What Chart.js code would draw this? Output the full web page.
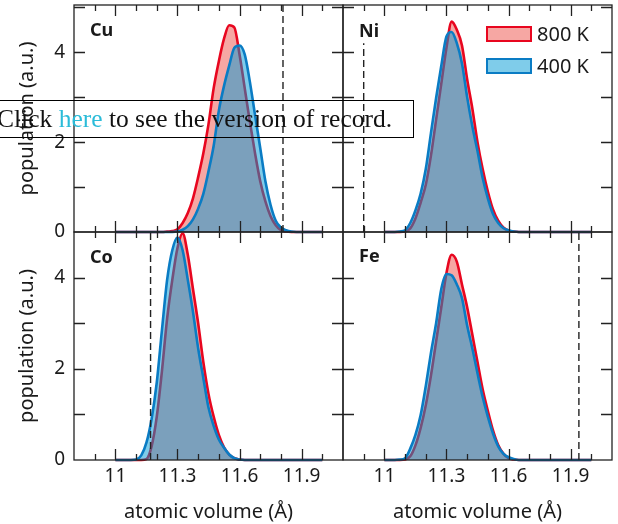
<!DOCTYPE html>
<html>
<head>
<meta charset="utf-8">
<script src="https://cdn.jsdelivr.net/npm/chart.js@4.4.1/dist/chart.umd.min.js"></script>
<style>
  html, body { margin: 0; padding: 0; background: #fff; }
  #fig { position: relative; width: 618px; height: 524px; overflow: hidden;
         font-family: "Noto Sans", sans-serif; color: #1a1a1a; }
  #fig canvas { position: absolute; }
  .tag { position: absolute; font-weight: 700; font-size: 18px; line-height: 18px; }
  .key { position: absolute; left: 486px; width: 42px; height: 12px; border: 2px solid; }
  .keytxt { position: absolute; left: 537px; font-size: 20px; line-height: 20px; }
  #record { position: absolute; left: -6px; top: 100px; width: 416px; height: 36px;
            border: 1.3px solid #000; font-family: "Liberation Serif", serif;
            font-size: 25.5px; line-height: 36px; white-space: nowrap; color: #111;
            padding-left: 2px; box-sizing: content-box; }
  #record span { color: #2bbcd9; }
</style>
</head>
<body>
<div id="fig">
  <canvas id="cu"></canvas>
  <canvas id="ni"></canvas>
  <canvas id="co"></canvas>
  <canvas id="fe"></canvas>

  <div class="tag" style="left:90px; top:20px;">Cu</div>
  <div class="tag" style="left:359px; top:21px;">Ni</div>
  <div class="tag" style="left:90px; top:247px;">Co</div>
  <div class="tag" style="left:359px; top:246px;">Fe</div>

  <div class="key" style="top:26px; border-color:#e8061f; background:rgba(235,60,50,0.45);"></div>
  <div class="keytxt" style="top:24px;">800 K</div>
  <div class="key" style="top:58px; border-color:#0a7cc4; background:rgba(0,153,214,0.5);"></div>
  <div class="keytxt" style="top:56px;">400 K</div>

  <div id="record">Click <span>here</span> to see the version of record.</div>
</div>

<script>
// atomic volume grid (Å)
const VOLUME = [11.000, 11.025, 11.050, 11.075, 11.100, 11.125, 11.150, 11.175, 11.200, 11.225,
                11.250, 11.275, 11.300, 11.325, 11.350, 11.375, 11.400, 11.425, 11.450, 11.475,
                11.500, 11.525, 11.550, 11.575, 11.600, 11.625, 11.650, 11.675, 11.700, 11.725,
                11.750, 11.775, 11.800, 11.825, 11.850, 11.875, 11.900, 11.925, 11.950, 11.975, 12.000];

// populations, 800 K and 400 K
const CU_800 = [0, 0, 0, 0, 0, 0, 0, 0, 0, 0,
                0.01, 0.02, 0.06, 0.2, 0.42, 0.75, 1.22, 1.75, 2.4, 3.2,
                3.8, 4.3, 4.6, 4.55, 3.95, 3.2, 2.45, 1.75, 1.13, 0.68,
                0.35, 0.15, 0.04, 0.01, 0, 0, 0, 0, 0, 0, 0];
const CU_400 = [0, 0, 0, 0, 0, 0, 0, 0, 0, 0,
                0, 0, 0.01, 0.05, 0.13, 0.28, 0.52, 0.85, 1.35, 1.92,
                2.7, 3.25, 3.7, 4.1, 4.15, 3.95, 3.34, 2.6, 1.87, 1.13,
                0.6, 0.25, 0.1, 0.04, 0.01, 0, 0, 0, 0, 0, 0];
const NI_800 = [0, 0, 0, 0, 0.01, 0.08, 0.3, 0.65, 1.05, 1.7,
                2.5, 3.3, 4.1, 4.68, 4.5, 4.15, 3.4, 2.75, 2.0, 1.4,
                0.9, 0.5, 0.25, 0.1, 0.03, 0.01, 0, 0, 0, 0,
                0, 0, 0, 0, 0, 0, 0, 0, 0, 0, 0];
const NI_400 = [0, 0, 0, 0.01, 0.04, 0.2, 0.48, 0.85, 1.4, 2.2,
                2.98, 3.7, 4.35, 4.45, 4.2, 3.75, 3.0, 2.35, 1.8, 1.2,
                0.75, 0.4, 0.2, 0.09, 0.04, 0.01, 0, 0, 0, 0,
                0, 0, 0, 0, 0, 0, 0, 0, 0, 0, 0];
const CO_800 = [0, 0, 0, 0, 0, 0, 0.02, 0.3, 0.95, 1.95,
                3.1, 3.95, 4.65, 4.97, 4.5, 3.75, 3.0, 2.15, 1.45, 0.95,
                0.55, 0.28, 0.12, 0.04, 0.01, 0, 0, 0, 0, 0,
                0, 0, 0, 0, 0, 0, 0, 0, 0, 0, 0];
const CO_400 = [0, 0, 0, 0, 0.01, 0.1, 0.38, 0.9, 1.7, 2.85,
                3.95, 4.6, 4.88, 4.6, 3.95, 3.25, 2.45, 1.8, 1.15, 0.75,
                0.45, 0.27, 0.12, 0.04, 0.01, 0, 0, 0, 0, 0,
                0, 0, 0, 0, 0, 0, 0, 0, 0, 0, 0];
const FE_800 = [0, 0, 0, 0, 0.01, 0.08, 0.32, 0.7, 1.2, 1.85,
                2.6, 3.35, 4.1, 4.5, 4.35, 3.85, 3.35, 2.75, 2.15, 1.55,
                1.08, 0.65, 0.33, 0.14, 0.04, 0.01, 0, 0, 0, 0,
                0, 0, 0, 0, 0, 0, 0, 0, 0, 0, 0];
const FE_400 = [0, 0, 0, 0.01, 0.04, 0.25, 0.55, 0.98, 1.62, 2.35,
                3.0, 3.75, 4.08, 4.05, 3.85, 3.55, 2.95, 2.45, 1.9, 1.38,
                0.95, 0.58, 0.3, 0.14, 0.06, 0.02, 0, 0, 0, 0,
                0, 0, 0, 0, 0, 0, 0, 0, 0, 0, 0];

// dashed reference volumes (Cu, Ni, Co, Fe) and how high each line goes
const REF_VOLUME = [11.81, 10.9, 11.17, 11.94];
const REF_TOP    = [5.05, 4.2, 5.0, 5.0];

const X_TICKS = [11, 11.3, 11.6, 11.9];
const Y_TICKS = [0, 2, 4];
const SERIES  = ['800 K', '400 K'];

const TICK_FONT  = { family: '"Noto Sans", sans-serif', size: 19 };
const TITLE_FONT = { family: '"Noto Sans", sans-serif', size: 20 };
const INK = '#1a1a1a';

// frame + inward ticks on all four sides
const frame = {
  id: 'frame',
  afterDraw(chart) {
    const { ctx, chartArea: a, scales: { x, y } } = chart;
    ctx.save();
    ctx.strokeStyle = '#222';
    ctx.lineWidth = 1.3;
    ctx.beginPath();
    for (let k = 109; k <= 120; k++) {
      const px = Math.round(x.getPixelForValue(k / 10)) + 0.5;
      const len = (k - 110) % 3 === 0 ? 11 : 6;
      ctx.moveTo(px, a.top);    ctx.lineTo(px, a.top + len);
      ctx.moveTo(px, a.bottom); ctx.lineTo(px, a.bottom - len);
    }
    for (let v = 1; v < y.max; v++) {
      const py = Math.round(y.getPixelForValue(v)) + 0.5;
      ctx.moveTo(a.left, py);  ctx.lineTo(a.left + 11, py);
      ctx.moveTo(a.right, py); ctx.lineTo(a.right - 11, py);
    }
    ctx.stroke();
    ctx.strokeRect(a.left, a.top, a.right - a.left, a.bottom - a.top);
    ctx.restore();
  }
};

function curve(label, vals, line, fill) {
  return {
    label,
    data: VOLUME.map((v, i) => ({ x: v, y: vals[i] })),
    borderColor: line,
    backgroundColor: fill,
    borderWidth: 2.6,
    fill: 'origin',
    pointRadius: 0,
    cubicInterpolationMode: 'monotone',
    clip: false
  };
}

function makePanel(id, box, k, hot, cold) {
  const el = document.getElementById(id);
  el.width = box.w; el.height = box.h;
  el.style.left = box.x + 'px';
  el.style.top = box.y + 'px';

  return new Chart(el, {
    type: 'line',
    data: {
      datasets: [
        {
          data: [{ x: REF_VOLUME[k], y: 0 }, { x: REF_VOLUME[k], y: REF_TOP[k] }],
          borderColor: '#222', borderWidth: 1.4, borderDash: [7, 4],
          pointRadius: 0, fill: false
        },
        curve(SERIES[1], cold, '#0a7cc4', 'rgba(0,153,214,0.5)'),
        curve(SERIES[0], hot, '#e8061f', 'rgba(235,60,50,0.45)')
      ]
    },
    options: {
      responsive: false,
      animation: false,
      layout: { padding: box.pad },
      plugins: { legend: { display: false }, tooltip: { enabled: false } },
      scales: {
        x: {
          type: 'linear', min: 10.8, max: 12.1,
          display: box.showX,
          afterBuildTicks: s => { s.ticks = X_TICKS.map(value => ({ value })); },
          afterFit: s => {
            s.height = box.showX ? 64 : 0;
            s.paddingLeft = 0; s.paddingRight = 0;
          },
          grid: { display: false, drawTicks: false },
          border: { display: false },
          ticks: { padding: 5, font: TICK_FONT, color: INK, maxRotation: 0, autoSkip: false,
                   callback: v => String(v) },
          title: { display: true, text: 'atomic volume (Å)', font: TITLE_FONT, color: INK,
                   padding: { top: 0, bottom: 0 } }
        },
        y: {
          min: 0, max: box.yMax,
          display: box.showY,
          afterBuildTicks: s => { s.ticks = Y_TICKS.map(value => ({ value })); },
          afterFit: s => {
            s.width = box.showY ? 74 : 0;
            s.paddingTop = 0; s.paddingBottom = 0;
          },
          grid: { display: false, drawTicks: false },
          border: { display: false },
          ticks: { padding: 9, font: TICK_FONT, color: INK },
          title: { display: true, text: 'population (a.u.)', font: TITLE_FONT, color: INK,
                   padding: { top: 15, bottom: 0 } }
        }
      }
    },
    plugins: [frame]
  });
}

makePanel('cu', { x: 0,   y: 0,   w: 353, h: 242, yMax: 5.05, showX: false, showY: true,
                  pad: { top: 5, right: 10, bottom: 10, left: 0 } }, 0, CU_800, CU_400);
makePanel('ni', { x: 333, y: 0,   w: 285, h: 242, yMax: 5.05, showX: false, showY: false,
                  pad: { top: 5, right: 6, bottom: 10, left: 10 } }, 1, NI_800, NI_400);
makePanel('co', { x: 0,   y: 222, w: 353, h: 302, yMax: 5.0, showX: true, showY: true,
                  pad: { top: 10, right: 10, bottom: 0, left: 0 } }, 2, CO_800, CO_400);
makePanel('fe', { x: 333, y: 222, w: 285, h: 302, yMax: 5.0, showX: true, showY: false,
                  pad: { top: 10, right: 6, bottom: 0, left: 10 } }, 3, FE_800, FE_400);
</script>
</body>
</html>
